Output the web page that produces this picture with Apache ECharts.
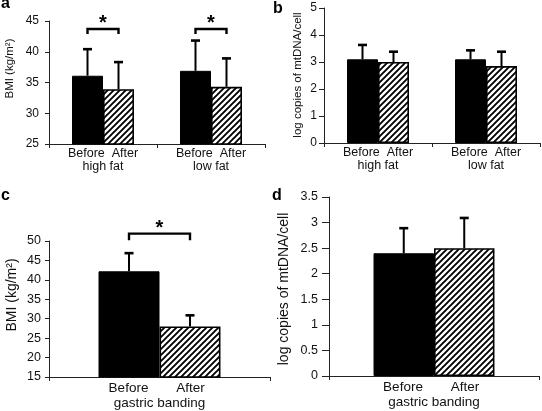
<!DOCTYPE html>
<html><head><meta charset="utf-8">
<script src="https://cdn.jsdelivr.net/npm/echarts@6/dist/echarts.min.js"></script>
<style>html,body{margin:0;padding:0;background:#fff}#c{width:542px;height:411px}</style>
</head><body><div id="c"></div>
<script>
// ---- data ----
const catsAB = ['high fat', 'low fat'];
const bmiBefore = [36.1, 36.9];
const bmiBeforeSD = [4.4, 5.0];
const bmiAfter = [33.9, 34.3];
const bmiAfterSD = [4.5, 4.7];
const mtBefore = [3.1, 3.1];
const mtBeforeSD = [0.55, 0.35];
const mtAfter = [3.0, 2.85];
const mtAfterSD = [0.4, 0.55];
const catsCD = ['gastric banding'];
const bandBmiBefore = [42.2];
const bandBmiBeforeSD = [4.8];
const bandBmiAfter = [28.0];
const bandBmiAfterSD = [3.0];
const bandMtBefore = [2.4];
const bandMtBeforeSD = [0.5];
const bandMtAfter = [2.5];
const bandMtAfterSD = [0.6];
// significance brackets: [category, bracket top, bracket foot, star centre]
const sigA = [[0, 43.7, 42.9, 45.33], [1, 43.7, 42.9, 45.33]];
const sigC = [[0, 51.9, 50.2, 54.3]];
const nameBMI = 'BMI (kg/m²)';
const nameMt = 'log copies of mtDNA/cell';

const FONT = '"Liberation Sans", Arial, sans-serif';

function hatch() {
  const c = document.createElement('canvas');
  c.width = 6; c.height = 6;
  const g = c.getContext('2d');
  g.fillStyle = '#fff'; g.fillRect(0, 0, 6, 6);
  g.strokeStyle = '#000'; g.lineWidth = 1.9;
  g.beginPath();
  g.moveTo(-1, 7); g.lineTo(7, -1);
  g.moveTo(-1, 1); g.lineTo(1, -1);
  g.moveTo(5, 7); g.lineTo(7, 5);
  g.stroke();
  return c;
}
const hatchPattern = { image: hatch(), repeat: 'repeat' };

const chart = echarts.init(document.getElementById('c'), null, { renderer: 'canvas' });

const grids = [
  { left: 49, top: 21, width: 216, height: 123 },
  { left: 324, top: 8, width: 216, height: 135 },
  { left: 49, top: 241, width: 221, height: 136 },
  { left: 329, top: 197, width: 210, height: 179 }
];

const panels = [
  { cats: catsAB, b: bmiBefore, bsd: bmiBeforeSD, a: bmiAfter, asd: bmiAfterSD, bw: 0.287,
    min: 25, max: 45, interval: 5, name: nameBMI, nameSize: 11.5, nameX: 10.3, nameY: 68.5,
    tickLen: 4, labMargin: 10, labSize: 12, sig: sigA, two: true },
  { cats: catsAB, b: mtBefore, bsd: mtBeforeSD, a: mtAfter, asd: mtAfterSD, bw: 0.287,
    min: 0, max: 5, interval: 1, name: nameMt, nameSize: 11.5, nameX: 298.3, nameY: 75,
    tickLen: 5, labMargin: 7, labSize: 12, sig: null, two: true },
  { cats: catsCD, b: bandBmiBefore, bsd: bandBmiBeforeSD, a: bandBmiAfter, asd: bandBmiAfterSD, bw: 0.276,
    min: 15, max: 50, interval: 5, name: nameBMI, nameSize: 14, nameX: 12.4, nameY: 295,
    tickLen: 4, labMargin: 8, labSize: 12.5, sig: sigC, two: false },
  { cats: catsCD, b: bandMtBefore, bsd: bandMtBeforeSD, a: bandMtAfter, asd: bandMtAfterSD, bw: 0.288,
    min: 0, max: 3.5, interval: 0.5, name: nameMt, nameSize: 14, nameX: 284.6, nameY: 289,
    tickLen: 7, labMargin: 11, labSize: 12.5, sig: null, two: false }
];

const xAxes = [], yAxes = [], series = [], graphics = [];
panels.forEach((p, i) => {
  xAxes.push({
    type: 'category', gridIndex: i, data: p.cats,
    axisLine: { lineStyle: { color: '#222', width: 1 } },
    axisTick: { show: true, interval: 0, length: 4, lineStyle: { color: '#222' } },
    axisLabel: p.two ? {
      interval: 0, margin: 3, color: '#111', fontFamily: FONT, fontSize: 12.5, lineHeight: 13,
      formatter: v => 'Before  After\n' + v
    } : {
      interval: 0, margin: 4, color: '#111', fontFamily: FONT, fontSize: 13.5, lineHeight: 15,
      formatter: v => '{bf|Before}{af|After}\n{g|' + v + '}',
      rich: {
        bf: { width: 62, align: 'center', fontSize: 13.5, fontFamily: FONT, color: '#111', lineHeight: 15 },
        af: { width: 62, align: 'center', fontSize: 13.5, fontFamily: FONT, color: '#111', lineHeight: 15 },
        g: { fontSize: 13.5, fontFamily: FONT, color: '#111', lineHeight: 15 }
      }
    },
    splitLine: { show: false }
  });
  yAxes.push({
    type: 'value', gridIndex: i, min: p.min, max: p.max, interval: p.interval,
    axisLine: { show: true, lineStyle: { color: '#222', width: 1 } },
    axisTick: { show: true, length: p.tickLen, lineStyle: { color: '#222' } },
    axisLabel: { margin: p.labMargin, fontFamily: FONT, fontSize: p.labSize, color: '#111' },
    splitLine: { show: false }
  });
  graphics.push({
    type: 'text', x: p.nameX, y: p.nameY, rotation: Math.PI / 2, silent: true,
    style: { text: p.name, font: p.nameSize + 'px ' + FONT, fill: '#111', align: 'center', verticalAlign: 'middle' }
  });
  const bwPct = (p.bw * 100).toFixed(1) + '%';
  series.push({
    type: 'bar', xAxisIndex: i, yAxisIndex: i, data: p.b, barWidth: bwPct, barGap: '0%',
    itemStyle: { color: '#000', borderColor: '#000', borderWidth: 1 }, z: 2, silent: true
  });
  series.push({
    type: 'bar', xAxisIndex: i, yAxisIndex: i, data: p.a, barWidth: bwPct, barGap: '0%',
    itemStyle: { color: hatchPattern, borderColor: '#000', borderWidth: 1.6 }, z: 2, silent: true
  });
  const errData = [];
  p.cats.forEach((c, k) => {
    errData.push([k, p.b[k], p.bsd[k], -p.bw / 2]);
    errData.push([k, p.a[k], p.asd[k], p.bw / 2]);
  });
  series.push({
    type: 'custom', xAxisIndex: i, yAxisIndex: i, data: errData, z: 3, silent: true,
    encode: { x: 0, y: 1 }, clip: false,
    renderItem: (params, api) => {
      const k = api.value(0), m = api.value(1), sd = api.value(2), off = api.value(3);
      const band = api.size([1, 0])[0];
      const base = api.coord([k, m]);
      const top = api.coord([k, m + sd]);
      const x = base[0] + off * band;
      return { type: 'group', children: [
        { type: 'line', shape: { x1: x, y1: base[1], x2: x, y2: top[1] }, style: { stroke: '#000', lineWidth: 2 } },
        { type: 'line', shape: { x1: x - 4.5, y1: top[1] + 0.5, x2: x + 4.5, y2: top[1] + 0.5 }, style: { stroke: '#000', lineWidth: 2.6 } }
      ] };
    }
  });
  if (p.sig) {
    const bw = p.bw;
    series.push({
      type: 'custom', xAxisIndex: i, yAxisIndex: i, data: p.sig, z: 3, silent: true,
      encode: { x: 0, y: 1 }, clip: false,
      renderItem: (params, api) => {
        const k = api.value(0), t = api.value(1), f = api.value(2), s = api.value(3);
        const band = api.size([1, 0])[0];
        const c = api.coord([k, t]);
        const yf = api.coord([k, f])[1];
        const ys = api.coord([k, s])[1];
        const x1 = c[0] - bw / 2 * band, x2 = c[0] + bw / 2 * band;
        return { type: 'group', children: [
          { type: 'polyline', shape: { points: [[x1, yf], [x1, c[1]], [x2, c[1]], [x2, yf]] },
            style: { stroke: '#000', lineWidth: 2.4, fill: null } },
          { type: 'text', x: c[0], y: ys + 4.5,
            style: { text: '*', font: 'bold 20px ' + FONT, fill: '#000', align: 'center', verticalAlign: 'middle' } }
        ] };
      }
    });
  }
});

const letters = [['a', 1, 8], ['b', 273, 13], ['c', 1, 200], ['d', 272, 200]];
letters.forEach(l => graphics.push({
  type: 'text', left: l[1], top: l[2] - 12, silent: true,
  style: { text: l[0], font: 'bold 16px ' + FONT, fill: '#000' }
}));

chart.setOption({
  animation: false,
  backgroundColor: '#fff',
  grid: grids,
  xAxis: xAxes,
  yAxis: yAxes,
  series: series,
  graphic: graphics
});
</script></body></html>
